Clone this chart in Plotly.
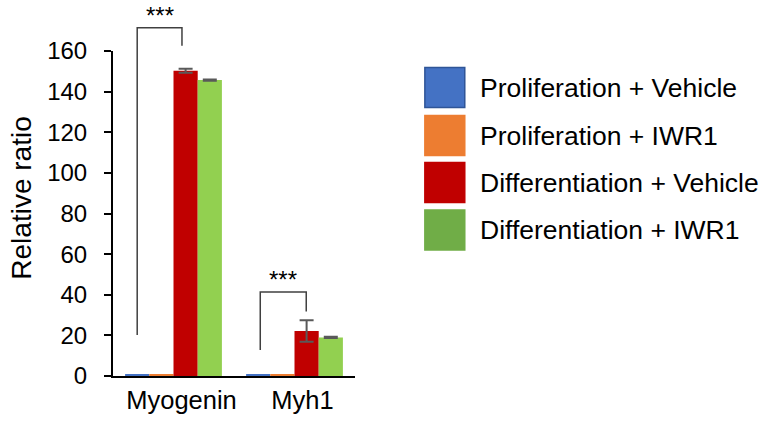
import plotly.graph_objects as go

categories = ["Myogenin", "Myh1"]
series_names = ["Proliferation + Vehicle", "Proliferation + IWR1",
                "Differentiation + Vehicle", "Differentiation + IWR1"]
prolif_vehicle = [1.0, 1.0]
prolif_iwr1 = [0.9, 0.9]
diff_vehicle = [150.3, 22.2]
diff_iwr1 = [145.7, 19.0]
prolif_vehicle_err = [0.0, 0.0]
prolif_iwr1_err = [0.0, 0.0]
diff_vehicle_err = [1.0, 5.3]
diff_iwr1_err = [0.3, 0.3]
y_ticks = [0, 20, 40, 60, 80, 100, 120, 140, 160]
sig_labels = ["***", "***"]

bar_colors = ["#4472C4", "#ED7D31", "#C00000", "#92D050"]
legend_colors = ["#4472C4", "#ED7D31", "#C00000", "#70AD47"]
legend_borders = ["#2F5597", "#ED7D31", "#C00000", "#70AD47"]

values = [prolif_vehicle, prolif_iwr1, diff_vehicle, diff_iwr1]
errors = [prolif_vehicle_err, prolif_iwr1_err, diff_vehicle_err, diff_iwr1_err]

FONT = "Liberation Sans, Arial, sans-serif"
W, H = 767, 426
L, R, T, B = 113, 355.5, 51, 376
YMAX = 160

def px(x):
    return (x - L) / (R - L)

def py(y):
    return (B - y) / (B - T)

fig = go.Figure()
for name, vals, errs, col in zip(series_names, values, errors, bar_colors):
    fig.add_trace(go.Bar(
        x=categories, y=vals, name=name, marker_color=col,
        marker_line_width=0, showlegend=False,
        error_y=dict(type="data", array=errs, visible=any(e > 0 for e in errs),
                     color="#595959", thickness=2, width=7),
    ))

# significance brackets (data y -> paper y so they are not clipped)
brackets = [
    # (x_left, x_right, y_left_bottom, y_top, y_right_bottom)
    (-0.30, 0.07, 20.2, 171.4, 162.6),
    (0.717, 1.097, 12.8, 41.4, 31.7),
]
shapes = []
annotations = []
for (xl, xr, yl, yt, yr), lab in zip(brackets, sig_labels):
    path = (f"M {xl},{yl/YMAX} L {xl},{yt/YMAX} L {xr},{yt/YMAX} L {xr},{yr/YMAX}")
    shapes.append(dict(type="path", xref="x", yref="paper", path=path,
                       line=dict(color="#404040", width=1.5)))
    annotations.append(dict(x=(xl + xr) / 2, y=yt / YMAX, xref="x", yref="paper",
                            text=lab, showarrow=False, yanchor="bottom",
                            yshift=-3,
                            font=dict(family=FONT, size=24, color="black")))

# manual legend with large square swatches
leg_centers = [87.5, 135.5, 182.5, 230.0]
for name, col, bcol, cy in zip(series_names, legend_colors, legend_borders, leg_centers):
    shapes.append(dict(type="rect", xref="paper", yref="paper",
                       x0=px(425.5), x1=px(465.5), y0=py(cy + 20), y1=py(cy - 20),
                       fillcolor=col, line=dict(color=bcol, width=1.5)))
    annotations.append(dict(x=px(479), y=py(cy), xref="paper", yref="paper",
                            text=name, showarrow=False, xanchor="left",
                            yanchor="middle",
                            font=dict(family=FONT, size=26.5, color="black")))

# y-axis title
annotations.append(dict(x=px(21), y=py(198.5), xref="paper", yref="paper",
                        text="Relative ratio", textangle=-90, showarrow=False,
                        xanchor="center", yanchor="middle",
                        font=dict(family=FONT, size=28, color="black")))

fig.update_layout(
    width=W, height=H,
    margin=dict(l=L, r=W - R, t=T, b=H - B, pad=0),
    paper_bgcolor="white", plot_bgcolor="white",
    barmode="group", bargap=0.2, bargroupgap=0,
    font=dict(family=FONT, color="black"),
    shapes=shapes, annotations=annotations,
    xaxis=dict(showline=True, linecolor="black", linewidth=2, ticks="",
               tickfont=dict(size=25.5), showgrid=False, zeroline=False,
               ticklabelshift=8),
    yaxis=dict(range=[0, YMAX], tickvals=y_ticks, showline=True,
               linecolor="black", linewidth=2, ticks="outside", ticklen=7,
               tickwidth=2, tickcolor="black", tickfont=dict(size=24),
               showgrid=False, zeroline=False, ticklabelstandoff=12),
)

fig.write_html("out.html", config={"displayModeBar": False},
               post_script="document.body.style.margin='0';document.body.style.overflow='hidden';")
